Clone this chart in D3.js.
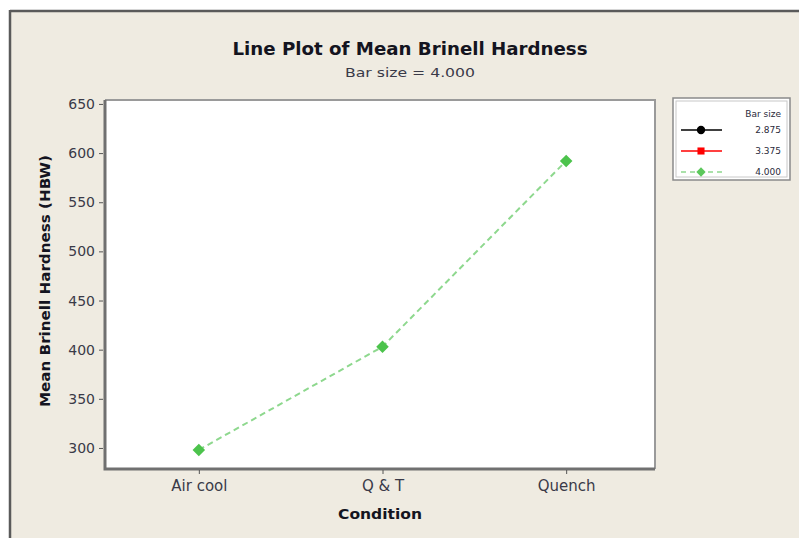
<!DOCTYPE html>
<html>
<head>
<meta charset="utf-8">
<script src="https://cdn.jsdelivr.net/npm/d3@7"></script>
<style>
  html, body { margin: 0; padding: 0; background: #ffffff; }
  svg { display: block; font-family: "DejaVu Sans", sans-serif; }
</style>
</head>
<body>
<svg id="chart" width="799" height="540"></svg>
<script>
// Mean Brinell hardness by heat-treatment condition (bar size 4.000)
const conditions = ["Air cool", "Q & T", "Quench"];
const hardness = [298, 403, 592];
const yTicks = [300, 350, 400, 450, 500, 550, 600, 650];
const legendSizes = ["2.875", "3.375", "4.000"];
const legendColors = ["#000000", "#ff0000", "#5cc85c"];

const svg = d3.select("#chart");

// window frame
svg.append("rect").attr("x", 10).attr("y", 10).attr("width", 789).attr("height", 528)
  .attr("fill", "#efebe1");
svg.append("line").attr("x1", 10).attr("x2", 799).attr("y1", 11).attr("y2", 11)
  .attr("stroke", "#5a5a5a").attr("stroke-width", 2.5);
svg.append("line").attr("x1", 10).attr("x2", 10).attr("y1", 10).attr("y2", 538)
  .attr("stroke", "#5a5a5a").attr("stroke-width", 2.5);

const plot = { left: 105, right: 655, top: 100, bottom: 469 };

const x = d3.scalePoint().domain(conditions).range([plot.left + 2, plot.right + 3]).padding(0.5);
const y = d3.scaleLinear().domain([278.6, 654]).range([plot.bottom, plot.top]);

// plot area
svg.append("rect")
  .attr("x", plot.left).attr("y", plot.top)
  .attr("width", plot.right - plot.left).attr("height", plot.bottom - plot.top)
  .attr("fill", "#ffffff");
svg.append("path")
  .attr("d", `M${plot.left},${plot.top}H${plot.right}V${plot.bottom}`)
  .attr("fill", "none").attr("stroke", "#9a9a9a").attr("stroke-width", 2);
svg.append("path")
  .attr("d", `M${plot.left},${plot.top}V${plot.bottom}H${plot.right}`)
  .attr("fill", "none").attr("stroke", "#707070").attr("stroke-width", 3);

// axes
const yAxis = d3.axisLeft(y).tickValues(yTicks).tickSize(4).tickPadding(4);
const gy = svg.append("g").attr("transform", `translate(${plot.left - 2},0)`).call(yAxis);
gy.select(".domain").remove();
gy.selectAll(".tick line").attr("stroke", "#555");
gy.selectAll(".tick text").attr("font-size", 14).attr("fill", "#3a3a48")
  .attr("font-family", "DejaVu Sans, sans-serif");

const xAxis = d3.axisBottom(x).tickSize(4).tickPadding(6);
const gx = svg.append("g").attr("transform", `translate(0,${plot.bottom + 1})`).call(xAxis);
gx.select(".domain").remove();
gx.selectAll(".tick line").attr("stroke", "#555");
gx.selectAll(".tick text").attr("font-size", 15).attr("fill", "#3a3a48")
  .attr("font-family", "DejaVu Sans, sans-serif");

// series line and markers
const line = d3.line().x((d, i) => x(conditions[i])).y(d => y(d));
svg.append("path").datum(hardness)
  .attr("d", line).attr("fill", "none")
  .attr("stroke", "#8ed88e").attr("stroke-width", 2).attr("stroke-dasharray", "6,4");
svg.selectAll(".pt").data(hardness).enter().append("path")
  .attr("class", "pt")
  .attr("transform", (d, i) => `translate(${x(conditions[i])},${y(d)})`)
  .attr("d", d3.symbol().type(d3.symbolDiamond2).size(100))
  .attr("fill", "#4cc34c");

// titles
svg.append("text").attr("x", 410).attr("y", 55).attr("text-anchor", "middle")
  .attr("font-size", 17).attr("font-weight", "bold").attr("fill", "#141420")
  .attr("textLength", 355).attr("lengthAdjust", "spacingAndGlyphs")
  .text("Line Plot of Mean Brinell Hardness");
svg.append("text").attr("x", 410).attr("y", 77).attr("text-anchor", "middle")
  .attr("font-size", 13).attr("fill", "#3a3a48")
  .attr("textLength", 130).attr("lengthAdjust", "spacingAndGlyphs")
  .text("Bar size = 4.000");
svg.append("text").attr("x", 380).attr("y", 519).attr("text-anchor", "middle")
  .attr("font-size", 14).attr("font-weight", "bold").attr("fill", "#141420")
  .attr("textLength", 84).attr("lengthAdjust", "spacingAndGlyphs")
  .text("Condition");
svg.append("text").attr("transform", "translate(50,281) rotate(-90)")
  .attr("text-anchor", "middle")
  .attr("font-size", 14).attr("font-weight", "bold").attr("fill", "#141420")
  .attr("textLength", 252).attr("lengthAdjust", "spacingAndGlyphs")
  .text("Mean Brinell Hardness (HBW)");

// legend
const lg = svg.append("g");
lg.append("rect").attr("x", 673).attr("y", 98).attr("width", 117).attr("height", 82)
  .attr("fill", "#ffffff").attr("stroke", "#8a8a8a").attr("stroke-width", 1.5);
lg.append("rect").attr("x", 676).attr("y", 101).attr("width", 111).attr("height", 76)
  .attr("fill", "none").attr("stroke", "#c8c8c8").attr("stroke-width", 1);
lg.append("text").attr("x", 781).attr("y", 117).attr("text-anchor", "end")
  .attr("font-size", 9).attr("fill", "#2a2a3a").text("Bar size");
const rowY = d3.scalePoint().domain(legendSizes).range([130, 172]);
const symbols = [d3.symbolCircle, d3.symbolSquare, d3.symbolDiamond2];
const rows = lg.selectAll(".row").data(legendSizes).enter().append("g")
  .attr("transform", d => `translate(0,${rowY(d)})`);
rows.append("line").attr("x1", 681).attr("x2", 722).attr("y1", 0).attr("y2", 0)
  .attr("stroke", (d, i) => i === 2 ? "#8ed88e" : legendColors[i])
  .attr("stroke-width", 1.5)
  .attr("stroke-dasharray", (d, i) => i === 2 ? "5,4" : null);
rows.append("path").attr("transform", "translate(701,0)")
  .attr("d", (d, i) => d3.symbol().type(symbols[i]).size(i === 1 ? 50 : 55)())
  .attr("fill", (d, i) => legendColors[i]);
rows.append("text").attr("x", 781).attr("y", 3).attr("text-anchor", "end")
  .attr("font-size", 9).attr("fill", "#2a2a3a").text(d => d);
</script>
</body>
</html>
